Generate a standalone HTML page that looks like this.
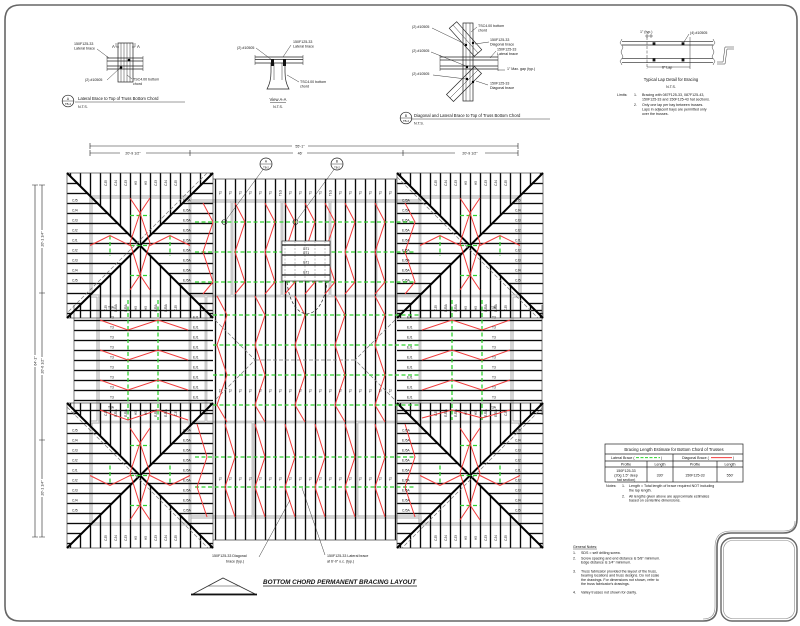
<!DOCTYPE html>
<html><head><meta charset="utf-8">
<style>
html,body{margin:0;padding:0;background:#fff;width:800px;height:626px;overflow:hidden}
svg{display:block}
text{font-family:"Liberation Sans",Arial,sans-serif;fill:#111}
.n{font-size:3.6px}
.s{font-size:3.2px}
.m{font-size:4.2px}
.k{stroke:#222;fill:none;stroke-width:.7}
.l{stroke:#222;fill:none;stroke-width:.45}
.r{stroke:#f23b3b;fill:none;stroke-width:1}
.g{stroke:#2fd12f;fill:none;stroke-width:1.3;stroke-dasharray:4 2.5}
.gd{stroke:#777;fill:none;stroke-width:.7;stroke-dasharray:4 2}
.hd{stroke:#000;fill:none;stroke-width:2}
</style></head><body>
<svg width="800" height="626" viewBox="0 0 800 626" xmlns="http://www.w3.org/2000/svg">
<defs>
<pattern id="pv0" width="10" height="10" patternUnits="userSpaceOnUse" patternTransform="translate(5.5 0)"><path d="M5 0V10" stroke="#0a0a0a" stroke-width="1.35"/></pattern>
<pattern id="pv5" width="10" height="10" patternUnits="userSpaceOnUse" patternTransform="translate(.5 0)"><path d="M5 0V10" stroke="#0a0a0a" stroke-width="1.35"/></pattern>
<pattern id="ph3" width="10" height="10" patternUnits="userSpaceOnUse" patternTransform="translate(0 -1.5)"><path d="M0 5H10" stroke="#0a0a0a" stroke-width="1.35"/></pattern>
<pattern id="ph0" width="10" height="10" patternUnits="userSpaceOnUse" patternTransform="translate(0 5.5)"><path d="M0 5H10" stroke="#0a0a0a" stroke-width="1.35"/></pattern>
</defs>

<!-- FRAME -->
<path d="M20 5H782Q797 5 797 20V519Q797 533 783 533H731Q717 533 717 547V607Q717 621 703 621H20Q5 621 5 606V20Q5 5 20 5Z" fill="none" stroke="#666" stroke-width="1.6"/>
<rect x="721" y="538" width="76" height="83" rx="11" fill="none" stroke="#666" stroke-width="1.4"/>
<rect x="723.5" y="540.5" width="71" height="78" rx="9" fill="none" stroke="#888" stroke-width=".6"/>
<path d="M795 521Q795 531 784 531H731Q715 531 715 547V607Q715 619 703 619" fill="none" stroke="#888" stroke-width=".6"/>

<!-- DETAIL A -->
<g class="k">
<rect x="118" y="43" width="15" height="39"/>
<path d="M121 43V82M124 43V82M127 43V82M130 43V82" class="l"/>
<path d="M107 58H143M107 61H143M107 66H143M107 69H143"/>
<path d="M107 56V71M143 56V71" class="l"/>
<path d="M116 43V47H119M135 43V47H132" class="l"/>
</g>
<circle cx="129" cy="60" r="1.3" fill="#000"/><circle cx="121" cy="67.5" r="1.3" fill="#000"/>
<path class="l" d="M97 49L109 58M107 80L120 68M132 79L127 75"/>
<text class="m" x="112" y="48">A</text><text class="m" x="137" y="48">A</text>
<text class="n" x="74" y="45">150F125-33</text><text class="n" x="74" y="49.5">Lateral brace</text>
<text class="n" x="85" y="81">(2) #10505</text>
<text class="n" x="133" y="80.5">TSC4.00 bottom</text><text class="n" x="133" y="85">chord</text>
<circle cx="68" cy="101" r="5.8" class="k" fill="#fff"/><path d="M62.2 101H73.8" class="l"/>
<text class="s" x="68" y="100" text-anchor="middle">A</text><text x="68" y="105" text-anchor="middle" style="font-size:2.8px">TB-2</text>
<text class="m" x="78" y="100">Lateral Brace to Top of Truss Bottom Chord</text>
<path d="M75 102H185" class="l"/>
<text class="n" x="78" y="108">N.T.S.</text>

<!-- VIEW A-A -->
<g class="k">
<path d="M255 57H303M255 59.5H303M255 63H303"/>
<path d="M255 55V65M303 55V65" class="l"/>
<path d="M271 63V72Q271 82 267 89H289Q285 82 285 72V63"/>
<path d="M274 63V80M282 63V80" class="l"/>
</g>
<rect x="271" y="59" width="3" height="7" fill="#111"/><rect x="283" y="59" width="3" height="7" fill="#111"/>
<path class="l" d="M256 48L272 60M291 45L283 57M299 82L287 75"/>
<text class="n" x="237" y="49">(2) #10505</text>
<text class="n" x="293" y="43">150F125-33</text><text class="n" x="293" y="47.5">Lateral brace</text>
<text class="n" x="300" y="83">TSC4.00 bottom</text><text class="n" x="300" y="87.5">chord</text>
<text class="m" x="278" y="101" text-anchor="middle">View A-A</text><path d="M270 102.5H286" class="l"/>
<text class="n" x="278" y="108" text-anchor="middle">N.T.S.</text>

<!-- DETAIL B -->
<g class="k">
<rect x="463" y="23" width="10" height="78"/>
<path d="M466 23V101M470 23V101" class="l"/>
<path d="M440 57H498M440 60H498M440 66H498M440 69H498"/>
<path d="M440 55V71M498 55V71" class="l"/>
<polygon points="456.7,21.7 481.7,49.7 474.3,56.3 449.3,28.3"/>
<path d="M453 25L478 53" class="l"/>
<polygon points="481.5,73.5 453.5,101.5 446.5,94.5 474.5,66.5"/>
<path d="M478 70L450 98" class="l"/>
</g>
<circle cx="466" cy="45" r="1.2" fill="#000"/><circle cx="473" cy="43" r="1.2" fill="#000"/><circle cx="467" cy="67" r="1.2" fill="#000"/><circle cx="467" cy="79" r="1.2" fill="#000"/><circle cx="473" cy="82" r="1.2" fill="#000"/>
<path class="l" d="M432 28L465 44M431 52L466 66M433 75L466 79M477 27L471 32M489 42L475 44M496 51L490 58M488 85L476 81M498 70H505"/>
<text class="n" x="478" y="27">TSC4.00 bottom</text><text class="n" x="478" y="31.5">chord</text>
<text class="n" x="412" y="28">(2) #10505</text>
<text class="n" x="490" y="41">150F125-33</text><text class="n" x="490" y="45.5">Diagonal brace</text>
<text class="n" x="412" y="52">(2) #10505</text>
<text class="n" x="497" y="50.5">150F125-33</text><text class="n" x="497" y="55">Lateral brace</text>
<text class="n" x="507" y="70">1" Max. gap (typ.)</text>
<text class="n" x="412" y="75">(2) #10505</text>
<text class="n" x="490" y="84.5">150F125-33</text><text class="n" x="490" y="89">Diagonal brace</text>
<circle cx="406" cy="118" r="5.8" class="k" fill="#fff"/><path d="M400.2 118H411.8" class="l"/>
<text class="s" x="406" y="117" text-anchor="middle">B</text><text x="406" y="122" text-anchor="middle" style="font-size:2.8px">TB-2</text>
<text class="m" x="414" y="117">Diagonal and Lateral Brace to Top of Truss Bottom Chord</text>
<path d="M412 119H550" class="l"/>
<text class="n" x="414" y="124.5">N.T.S.</text>

<!-- LAP DETAIL -->
<g class="k">
<path d="M622 41.7H713M622 45H713M622 58.3H713M622 62.7H713"/>
<path d="M622 39L620 43L623 47L621 52L623 57L620 61L622 65M713 39L715 43L712 47L714 52L712 57L715 61L713 65" class="l"/>
<path d="M647 37V69" class="l" stroke-dasharray="3 1.5"/>
<path d="M690 37V69" class="l"/>
<path d="M647 67H690M645 36H653M647 34V38M651 34V38" class="l"/>
<path d="M734 47H725L723 62H717M734 49H727L725 64H717" class="l"/>
</g>
<rect x="652.6" y="42.3" width="2.8" height="2.8" fill="#111"/><rect x="681.6" y="42.3" width="2.8" height="2.8" fill="#111"/>
<rect x="652.6" y="58.6" width="2.8" height="2.8" fill="#111"/><rect x="681.6" y="58.6" width="2.8" height="2.8" fill="#111"/>
<path class="l" d="M689 34L684 42"/>
<text class="n" x="640" y="33">1" (typ.)</text>
<text class="n" x="690" y="34">(4) #10505</text>
<text class="n" x="662" y="68.5">6" Lap</text>
<text class="m" x="671" y="81" text-anchor="middle">Typical Lap Detail for Bracing</text>
<text class="n" x="671" y="88" text-anchor="middle">N.T.S.</text>
<g class="n">
<text x="617" y="96">Limits:</text><text x="634" y="96">1.</text><text x="642" y="96">Bracing with 087F125-33, 087F125-43,</text>
<text x="642" y="100.5">150F125-33 and 150F125-43 hat sections.</text>
<text x="634" y="106">2.</text><text x="642" y="106">Only one lap per bay between trusses.</text>
<text x="642" y="110.5">Laps in adjacent bays are permitted only</text>
<text x="642" y="115">over the trusses.</text>
</g>

<!-- TOP DIMENSIONS -->
<g class="l" style="stroke-width:.6">
<path d="M90 146H292M308 146H518M90 143V149M518 143V149"/>
<path d="M90 153H120M146 153H190M190 153H293M307 153H403M403 153H455M485 153H518M90 150V156M190 150V156M403 150V156M518 150V156"/>
</g>
<text class="n" x="300" y="147.3" text-anchor="middle">55'-1"</text>
<text class="n" x="133" y="154.3" text-anchor="middle">20'-9 1/2"</text>
<text class="n" x="300" y="154.3" text-anchor="middle">46'</text>
<text class="n" x="470" y="154.3" text-anchor="middle">20'-9 1/2"</text>

<!-- LEFT DIMENSIONS -->
<g class="l" style="stroke-width:.6">
<path d="M35 185V355M35 367V537M32 185H38M32 537H38"/>
<path d="M42 185V230M42 248V357M42 375V479M42 497V537M39 185H45M39 293H45M39 440H45M39 537H45"/>
</g>
<g class="n" transform="rotate(-90)" text-anchor="middle">
<text x="-361" y="36.3">64'-1"</text>
<text x="-239" y="43.3">20'-1 1/4"</text>
<text x="-366" y="43.3">20'-6 1/2"</text>
<text x="-488" y="43.3">20'-1 1/4"</text>
</g>

<!-- WALLS (gray double lines) -->
<g fill="none">
<path d="M91 197H190V201H420V197H520V296H512V422H520V524H420V517H190V524H91V422H98V296H91Z" stroke="#a8a8a8" stroke-width="3"/>
<path d="M91 197H190V201H420V197H520V296H512V422H520V524H420V517H190V524H91V422H98V296H91Z" stroke="#fff" stroke-width="1"/>
<path d="M98 296H512M98 422H512M190 197V524M420 197V524M206 296V422M232 201V296M282 201V296M330 201V296M376 201V296M253 422V517M357 422V517" stroke="#a8a8a8" stroke-width="2.6"/>
<path d="M98 296H512M98 422H512M190 197V524M420 197V524M206 296V422M232 201V296M282 201V296M330 201V296M376 201V296M253 422V517M357 422V517" stroke="#fff" stroke-width=".8"/>
</g>

<!-- PATTERN FILLS -->
<rect x="213" y="179" width="184" height="361" fill="url(#pv5)"/>
<rect x="74" y="305" width="139" height="110" fill="url(#ph0)"/>
<rect x="397" y="305" width="145" height="110" fill="url(#ph0)"/>
<!-- TL -->
<polygon points="67,173 213,173 140,245.5" fill="url(#pv0)"/>
<polygon points="67,318 213,318 140,245.5" fill="url(#pv0)"/>
<polygon points="67,173 67,318 140,245.5" fill="url(#ph3)"/>
<polygon points="213,173 213,318 140,245.5" fill="url(#ph3)"/>
<!-- TR -->
<polygon points="397,173 543,173 470,245.5" fill="url(#pv0)"/>
<polygon points="397,318 543,318 470,245.5" fill="url(#pv0)"/>
<polygon points="397,173 397,318 470,245.5" fill="url(#ph3)"/>
<polygon points="543,173 543,318 470,245.5" fill="url(#ph3)"/>
<!-- BL -->
<polygon points="67,403 213,403 140,475.5" fill="url(#pv0)"/>
<polygon points="67,548 213,548 140,475.5" fill="url(#pv0)"/>
<polygon points="67,403 67,548 140,475.5" fill="url(#ph3)"/>
<polygon points="213,403 213,548 140,475.5" fill="url(#ph3)"/>
<!-- BR -->
<polygon points="397,403 543,403 470,475.5" fill="url(#pv0)"/>
<polygon points="397,548 543,548 470,475.5" fill="url(#pv0)"/>
<polygon points="397,403 397,548 470,475.5" fill="url(#ph3)"/>
<polygon points="543,403 543,548 470,475.5" fill="url(#ph3)"/>

<!-- OUTLINES -->
<g class="k" style="stroke:#444">
<rect x="67" y="173" width="146" height="145"/>
<rect x="397" y="173" width="146" height="145"/>
<rect x="67" y="403" width="146" height="145"/>
<rect x="397" y="403" width="146" height="145"/>
<path d="M213 179H397M213 540H397M74 305V415M542 305V415"/>
</g>
<path class="hd" d="M67 173L213 318M213 173L67 318M397 173L543 318M543 173L397 318M67 403L213 548M213 403L67 548M397 403L543 548M543 403L397 548"/>
<path class="gd" d="M207 173L67 313M397 177L538 318M67 407L208 548M543 407L402 548M215 320L255 360L215 400M255 360H355M395 320L355 360L395 400"/>

<!-- GREEN LATERAL BRACES -->
<path class="g" d="M195 222H415M195 252H415M195 282H415M213 315H420M213 345H420M213 375H420M213 405H420M195 457H415M195 487H415M128 300V420M158 300V420M452 300V420M482 300V420"/>
<g class="g">
<path transform="translate(140 245.5)" d="M-10 -30H10M-10 0H10M-10 30H10M-30 -10V10M30 -10V10"/>
<path transform="translate(470 245.5)" d="M-10 -30H10M-10 0H10M-10 30H10M-30 -10V10M30 -10V10"/>
<path transform="translate(140 475.5)" d="M-10 -30H10M-10 0H10M-10 30H10M-30 -10V10M30 -10V10"/>
<path transform="translate(470 475.5)" d="M-10 -30H10M-10 0H10M-10 30H10M-30 -10V10M30 -10V10"/>
</g>

<!-- RED DIAGONAL BRACES -->
<g class="r">
<path d="M203 203L213 222L203 252L213 282L203 294M235 203L245 222L235 252L245 282L235 294M265 203L275 222L265 252L275 282L265 294M285 203L295 222L285 252L295 282L285 294M305 203L315 222L305 252L315 282L305 294M325 203L335 222L325 252L335 282L325 294M345 203L355 222L345 252L355 282L345 294M375 203L385 222L375 252L385 282L375 294M405 203L415 222L405 252L415 282L405 294"/>
<path d="M217 296L227 315L217 345L227 375L217 405L227 422M255 296L265 315L255 345L265 375L255 405L265 422M295 296L305 315L295 345L305 375L295 405L305 422M335 296L345 315L335 345L345 375L335 405L345 422M375 296L385 315L375 345L385 375L375 405L385 422"/>
<path d="M197 424L207 457L197 487L207 517M225 424L235 457L225 487L235 517M255 424L265 457L255 487L265 517M285 424L295 457L285 487L295 517M315 424L325 457L315 487L325 517M345 424L355 457L345 487L355 517M375 424L385 457L375 487L385 517M405 424L415 457L405 487L415 517"/>
<path d="M100 320L128 330L158 320L188 330M100 350L128 360L158 350L188 360M100 380L128 390L158 380L188 390M100 410L128 420L158 410L188 420"/>
<path d="M422 330L452 320L482 330L510 320M422 360L452 350L482 360L510 350M422 390L452 380L482 390L510 380M422 418L452 410L482 418L510 410"/>
<path transform="translate(140 245.5)" d="M-10 -47.5L0 -32.5L-10 -2.5L0 29.5L-10 44.5M10 -47.5L0 -32.5L10 -2.5L0 29.5L10 44.5M-50 0L-30 -10L-10 0M10 0L30 -10L50 0"/>
<path transform="translate(470 245.5)" d="M-10 -47.5L0 -32.5L-10 -2.5L0 29.5L-10 44.5M10 -47.5L0 -32.5L10 -2.5L0 29.5L10 44.5M-50 0L-30 -10L-10 0M10 0L30 -10L50 0"/>
<path transform="translate(140 475.5)" d="M-10 -47.5L0 -32.5L-10 -2.5L0 29.5L-10 44.5M10 -47.5L0 -32.5L10 -2.5L0 29.5L10 44.5M-50 0L-30 10L-10 0M10 0L30 10L50 0"/>
<path transform="translate(470 475.5)" d="M-10 -47.5L0 -32.5L-10 -2.5L0 29.5L-10 44.5M10 -47.5L0 -32.5L10 -2.5L0 29.5L10 44.5M-50 0L-30 10L-10 0M10 0L30 10L50 0"/>
</g>

<!-- GT BOX -->
<rect x="282" y="241" width="48" height="40" fill="#fff" stroke="#333" stroke-width=".7"/>
<path d="M285 241V281M295 241V281M305 241V281M315 241V281M325 241V281" stroke="#999" stroke-width=".6" stroke-dasharray="2 1.5"/>
<path d="M282 245H330M282 255H330M282 265H330M282 275H330" stroke="#111" stroke-width="1.2"/>
<g class="s" text-anchor="middle"><text x="306" y="250">GT1</text><text x="306" y="254">GT1</text><text x="306" y="263.5">GT1</text><text x="306" y="273.5">GT1</text></g>
<path d="M287 282C289 300 296 313 307 314C318 313 325 300 327 282" fill="none" stroke="#222" stroke-width=".7" stroke-dasharray="3 2"/>

<!-- SECTION MARKERS ON PLAN -->
<path class="l" d="M263 169.5L226 220M334 169.5L297 220"/>
<circle cx="224.5" cy="222" r="2.5" fill="none" stroke="#222" stroke-width=".6"/>
<circle cx="295.5" cy="222" r="2.5" fill="none" stroke="#222" stroke-width=".6"/>
<circle cx="266" cy="164" r="6" fill="#fff" stroke="#222" stroke-width=".7"/><path class="l" d="M260 164H272"/>
<text class="s" x="266" y="162.6" text-anchor="middle">A</text><text x="266" y="168.3" text-anchor="middle" style="font-size:2.7px">TB-2</text>
<circle cx="337" cy="164" r="6" fill="#fff" stroke="#222" stroke-width=".7"/><path class="l" d="M331 164H343"/>
<text class="s" x="337" y="162.6" text-anchor="middle">B</text><text x="337" y="168.3" text-anchor="middle" style="font-size:2.7px">TB-2</text>

<!-- PLAN LABELS: center -->
<g class="s" transform="rotate(-90)" text-anchor="middle">
<text x="-193" y="221.5">T1</text><text x="-193" y="231.5">T1</text><text x="-193" y="241.5">T1</text><text x="-193" y="251.5">T1</text><text x="-193" y="261.5">T1</text><text x="-193" y="271.5">T1</text><text x="-193" y="281.5">T1G</text><text x="-193" y="291.5">T1</text><text x="-193" y="301.5">T1</text><text x="-193" y="311.5">T1</text><text x="-193" y="321.5">T1</text><text x="-193" y="331.5">T1G</text><text x="-193" y="341.5">T1</text><text x="-193" y="351.5">T1</text><text x="-193" y="361.5">T1</text><text x="-193" y="371.5">T1</text><text x="-193" y="381.5">T1</text><text x="-193" y="391.5">T1</text>
<text x="-391" y="221.5">T2</text><text x="-391" y="231.5">T2</text><text x="-391" y="241.5">T1</text><text x="-391" y="251.5">T1</text><text x="-391" y="261.5">T1</text><text x="-391" y="271.5">T1</text><text x="-391" y="281.5">T1</text><text x="-391" y="291.5">T1</text><text x="-391" y="301.5">T1</text><text x="-391" y="311.5">T1</text><text x="-391" y="321.5">T1</text><text x="-391" y="331.5">T1</text><text x="-391" y="341.5">T1</text><text x="-391" y="351.5">T1</text><text x="-391" y="361.5">T1</text><text x="-391" y="371.5">T1</text><text x="-391" y="381.5">T2</text><text x="-391" y="391.5">T2</text>
<text x="-479" y="221.5">T1</text><text x="-479" y="231.5">T1</text><text x="-479" y="241.5">T1</text><text x="-479" y="251.5">T1</text><text x="-479" y="261.5">T1</text><text x="-479" y="271.5">T1</text><text x="-479" y="281.5">T1</text><text x="-479" y="291.5">T1</text><text x="-479" y="301.5">T1</text><text x="-479" y="311.5">T1</text><text x="-479" y="321.5">T1</text><text x="-479" y="331.5">T1</text><text x="-479" y="341.5">T1</text><text x="-479" y="351.5">T1</text><text x="-479" y="361.5">T1</text><text x="-479" y="371.5">T1</text><text x="-479" y="381.5">T1</text><text x="-479" y="391.5">T1</text>
</g>

<!-- PLAN LABELS: wings -->
<g class="s">
<text x="108" y="308.5">T3A</text><text x="110" y="318.5">T3</text><text x="110" y="328.5">T3</text><text x="110" y="338.5">T3</text><text x="110" y="348.5">T3</text><text x="110" y="358.5">T3</text><text x="110" y="368.5">T3</text><text x="110" y="378.5">T3</text><text x="110" y="388.5">T3</text><text x="110" y="398.5">T3</text><text x="108" y="408.5">T3A</text>
<text x="193" y="318.5">EJ1</text><text x="193" y="328.5">EJ1</text><text x="193" y="338.5">EJ1</text><text x="193" y="348.5">EJ1</text><text x="193" y="358.5">EJ1</text><text x="193" y="368.5">EJ1</text><text x="193" y="378.5">EJ1</text><text x="193" y="388.5">EJ1</text><text x="193" y="398.5">EJ1</text>
<text x="407" y="318.5">EJ1</text><text x="407" y="328.5">EJ1</text><text x="407" y="338.5">EJ1</text><text x="407" y="348.5">EJ1</text><text x="407" y="358.5">EJ1</text><text x="407" y="368.5">EJ1</text><text x="407" y="378.5">EJ1</text><text x="407" y="388.5">EJ1</text><text x="407" y="398.5">EJ1</text>
<text x="490" y="308.5">T3A</text><text x="492" y="318.5">T3</text><text x="492" y="328.5">T3</text><text x="492" y="338.5">T3</text><text x="492" y="348.5">T3</text><text x="492" y="358.5">T3</text><text x="492" y="368.5">T3</text><text x="492" y="378.5">T3</text><text x="492" y="388.5">T3</text><text x="492" y="398.5">T3</text><text x="490" y="408.5">T3A</text>
</g>

<!-- PLAN LABELS: squares -->
<g class="s" transform="translate(67 173)">
<text x="5" y="28.5">CJ5</text><text x="5" y="38.5">CJ4</text><text x="5" y="48.5">CJ3</text><text x="5" y="58.5">CJ2</text><text x="5" y="68.5">CJ1</text><text x="5" y="78.5">CJ2</text><text x="5" y="88.5">CJ3</text><text x="5" y="98.5">CJ4</text><text x="5" y="108.5">CJ5</text>
<text x="116" y="28.5">EJ5A</text><text x="116" y="38.5">EJ5A</text><text x="116" y="48.5">EJ5A</text><text x="116" y="58.5">EJ5A</text><text x="116" y="68.5">EJ5A</text><text x="116" y="78.5">EJ5A</text><text x="116" y="88.5">EJ5A</text><text x="116" y="98.5">EJ5A</text><text x="116" y="108.5">EJ5A</text>
<g transform="rotate(-90)" text-anchor="middle">
<text x="-10" y="40">CJ5</text><text x="-10" y="50">CJ4</text><text x="-10" y="60">CJ3</text><text x="-10" y="70">H5</text><text x="-10" y="80">H5</text><text x="-10" y="90">CJ3</text><text x="-10" y="100">CJ4</text><text x="-10" y="110">CJ5</text>
<text x="-135" y="40">CJ5</text><text x="-135" y="50">EJ5A</text><text x="-135" y="60">EJ5A</text><text x="-135" y="70">H5</text><text x="-135" y="80">H5</text><text x="-135" y="90">EJ5A</text><text x="-135" y="100">EJ5A</text><text x="-135" y="110">CJ5</text>
</g></g>
<g class="s" transform="translate(397 173)">
<text x="5" y="28.5">CJ5A</text><text x="5" y="38.5">CJ5A</text><text x="5" y="48.5">EJ5A</text><text x="5" y="58.5">EJ5A</text><text x="5" y="68.5">EJ5A</text><text x="5" y="78.5">EJ5A</text><text x="5" y="88.5">EJ5A</text><text x="5" y="98.5">EJ5A</text><text x="5" y="108.5">CJ5A</text>
<text x="118" y="28.5">CJ5</text><text x="118" y="38.5">CJ4</text><text x="118" y="48.5">CJ3</text><text x="118" y="58.5">CJ2</text><text x="118" y="68.5">CJ1</text><text x="118" y="78.5">CJ2</text><text x="118" y="88.5">CJ3</text><text x="118" y="98.5">CJ4</text><text x="118" y="108.5">CJ5</text>
<g transform="rotate(-90)" text-anchor="middle">
<text x="-10" y="40">CJ5</text><text x="-10" y="50">CJ4</text><text x="-10" y="60">CJ3</text><text x="-10" y="70">H5</text><text x="-10" y="80">H5</text><text x="-10" y="90">CJ3</text><text x="-10" y="100">CJ4</text><text x="-10" y="110">CJ5</text>
<text x="-135" y="40">CJ5</text><text x="-135" y="50">EJ5A</text><text x="-135" y="60">EJ5A</text><text x="-135" y="70">H5</text><text x="-135" y="80">H5</text><text x="-135" y="90">EJ5A</text><text x="-135" y="100">EJ5A</text><text x="-135" y="110">CJ5</text>
</g></g>
<g class="s" transform="translate(67 403)">
<text x="5" y="28.5">CJ5</text><text x="5" y="38.5">CJ4</text><text x="5" y="48.5">CJ3</text><text x="5" y="58.5">CJ2</text><text x="5" y="68.5">CJ1</text><text x="5" y="78.5">CJ2</text><text x="5" y="88.5">CJ3</text><text x="5" y="98.5">CJ4</text><text x="5" y="108.5">CJ5</text>
<text x="116" y="28.5">CJ5A</text><text x="116" y="38.5">EJ5A</text><text x="116" y="48.5">EJ5A</text><text x="116" y="58.5">EJ5A</text><text x="116" y="68.5">EJ5A</text><text x="116" y="78.5">EJ5A</text><text x="116" y="88.5">EJ5A</text><text x="116" y="98.5">EJ5A</text><text x="116" y="108.5">CJ5A</text>
<g transform="rotate(-90)" text-anchor="middle">
<text x="-10" y="40">CJ5</text><text x="-10" y="50">EJ5A</text><text x="-10" y="60">EJ5A</text><text x="-10" y="70">H5</text><text x="-10" y="80">H5</text><text x="-10" y="90">EJ5A</text><text x="-10" y="100">EJ5A</text><text x="-10" y="110">CJ5</text>
<text x="-135" y="40">CJ5</text><text x="-135" y="50">CJ4</text><text x="-135" y="60">CJ3</text><text x="-135" y="70">H5</text><text x="-135" y="80">H5</text><text x="-135" y="90">CJ3</text><text x="-135" y="100">CJ4</text><text x="-135" y="110">CJ5</text>
</g></g>
<g class="s" transform="translate(397 403)">
<text x="5" y="28.5">CJ5A</text><text x="5" y="38.5">EJ5A</text><text x="5" y="48.5">EJ5A</text><text x="5" y="58.5">EJ5A</text><text x="5" y="68.5">EJ5A</text><text x="5" y="78.5">EJ5A</text><text x="5" y="88.5">EJ5A</text><text x="5" y="98.5">EJ5A</text><text x="5" y="108.5">CJ5A</text>
<text x="118" y="28.5">CJ5</text><text x="118" y="38.5">CJ4</text><text x="118" y="48.5">CJ3</text><text x="118" y="58.5">CJ2</text><text x="118" y="68.5">CJ1</text><text x="118" y="78.5">CJ2</text><text x="118" y="88.5">CJ3</text><text x="118" y="98.5">CJ4</text><text x="118" y="108.5">CJ5</text>
<g transform="rotate(-90)" text-anchor="middle">
<text x="-10" y="40">CJ5</text><text x="-10" y="50">EJ5A</text><text x="-10" y="60">EJ5A</text><text x="-10" y="70">H5</text><text x="-10" y="80">H5</text><text x="-10" y="90">EJ5A</text><text x="-10" y="100">EJ5A</text><text x="-10" y="110">CJ5</text>
<text x="-135" y="40">CJ5</text><text x="-135" y="50">CJ4</text><text x="-135" y="60">CJ3</text><text x="-135" y="70">H5</text><text x="-135" y="80">H5</text><text x="-135" y="90">CJ3</text><text x="-135" y="100">CJ4</text><text x="-135" y="110">CJ5</text>
</g></g>

<!-- BOTTOM LEADERS -->
<path class="l" d="M259 557L290 500M325 555L302 488"/>
<text class="n" x="212" y="557">150F125-33 Diagonal</text>
<text class="n" x="226" y="562.5">brace (typ.)</text>
<text class="n" x="327" y="557">150F125-33 Lateral brace</text>
<text class="n" x="327" y="562.5">at 6'-0" o.c. (typ.)</text>

<!-- TITLE -->
<polygon points="193,594 223,578 255,594" fill="none" stroke="#333" stroke-width=".8"/>
<path d="M208 586H240" stroke="#333" stroke-width=".6"/>
<path d="M191 594.5H257" stroke="#111" stroke-width="1.8"/>
<text x="263" y="584" font-size="6.3" font-weight="bold" font-style="italic" textLength="153" lengthAdjust="spacingAndGlyphs">BOTTOM CHORD PERMANENT BRACING LAYOUT</text>
<path d="M263 586H417" stroke="#111" stroke-width=".7"/>

<!-- TABLE -->
<rect x="605" y="444" width="138" height="38" class="k"/>
<path class="k" d="M605 454H743M605 461H743M605 467H743M673 454V482M647 461V482M717 461V482"/>
<text class="m" x="674" y="451" text-anchor="middle">Bracing Length Estimate for Bottom Chord of Trusses</text>
<text class="n" x="611" y="459">Lateral Brace (</text><path d="M636 457.6H660" stroke="#2fd12f" stroke-width="1" stroke-dasharray="3 1.5"/><text class="n" x="661" y="459">)</text>
<text class="n" x="682" y="459">Diagonal Brace (</text><path d="M711 457.6H732" stroke="#f23b3b" stroke-width="1"/><text class="n" x="733" y="459">)</text>
<g class="n" text-anchor="middle">
<text x="626" y="465.5">Profile</text><text x="660" y="465.5">Length</text><text x="695" y="465.5">Profile</text><text x="730" y="465.5">Length</text>
<text x="626" y="472">150F125-33</text><text x="626" y="476.5">(20g 1.5" deep</text><text x="626" y="481">hat section)</text>
<text x="660" y="476.3">330'</text><text x="695" y="476.3">150F125-33</text><text x="730" y="476.3">550'</text>
</g>
<g class="n">
<text x="606" y="487">Notes:</text><text x="622" y="487">1.</text><text x="629" y="487">Length = Total length of brace required NOT including</text>
<text x="629" y="491.3">the lap length.</text>
<text x="622" y="497.3">2.</text><text x="629" y="497.3">All lengths given above are approximate estimates</text>
<text x="629" y="501.6">based on centerline dimensions.</text>
</g>

<!-- GENERAL NOTES -->
<g class="n">
<text x="573" y="548">General Notes:</text>
<path d="M573 549H597" stroke="#111" stroke-width=".4"/>
<text x="573" y="554">1.</text><text x="581" y="554">SDS = self drilling screw.</text>
<text x="573" y="559.5">2.</text><text x="581" y="559.5">Screw spacing and end distance is 5/8" minimum.</text>
<text x="581" y="563.7">Edge distance is 1/4" minimum.</text>
<text x="573" y="572.5">3.</text><text x="581" y="572.5">Truss fabricator provided the layout of the truss,</text>
<text x="581" y="576.7">bearing locations and truss designs.  Do not scale</text>
<text x="581" y="580.9">the drawings.  For dimensions not shown, refer to</text>
<text x="581" y="585.1">the truss fabricator's drawings.</text>
<text x="573" y="593.5">4.</text><text x="581" y="593.5">Valley trusses not shown for clarity.</text>
</g>
</svg>
</body></html>
